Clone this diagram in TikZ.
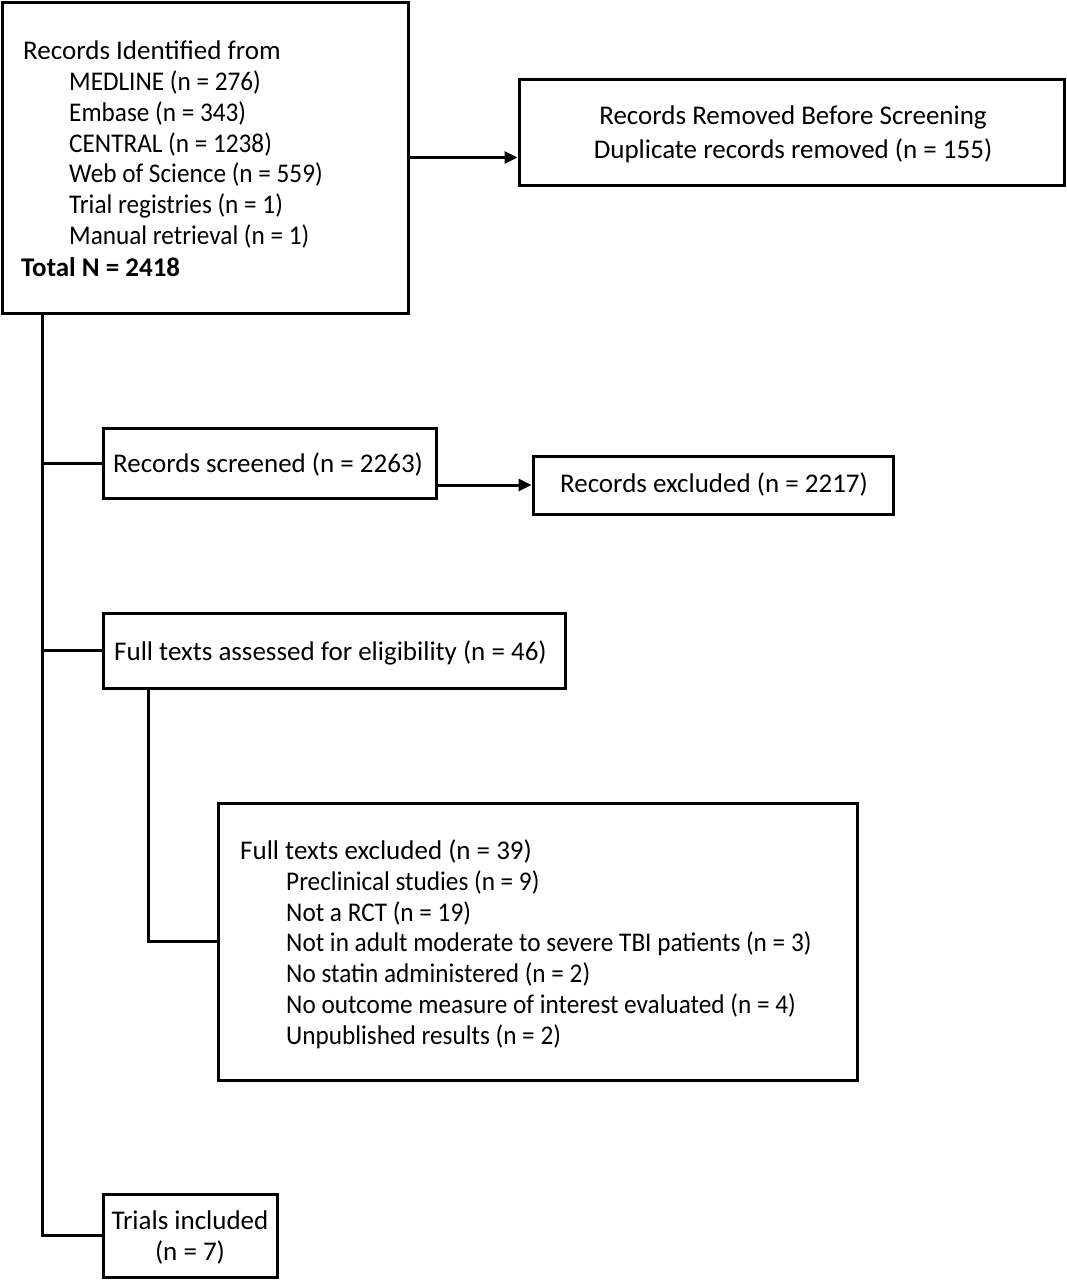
\documentclass[tikz,border=0pt]{standalone}
\usepackage{fontspec}
\setmainfont{Carlito}
\newfontfamily\condfont[FakeStretch=0.935]{Carlito}
\usetikzlibrary{arrows.meta}
\begin{document}
\begin{tikzpicture}[x=1pt,y=-1pt,
  box/.style={draw,line width=3pt,rectangle,inner sep=0pt},
  txt/.style={anchor=base west,inner sep=0pt,font=\fontsize{27}{31}\selectfont},
  itxt/.style={anchor=base west,inner sep=0pt,font=\condfont\fontsize{27}{31}\selectfont},
  ctxt/.style={anchor=base,inner sep=0pt,font=\fontsize{27}{31}\selectfont},
  conn/.style={line width=3pt},
  arr/.style={line width=3pt,-{Triangle[length=13pt,width=12pt]}}]
\useasboundingbox (0,0) rectangle (1067,1280);
% boxes
\node[box,minimum width=406pt,minimum height=311pt] (A) at (205,157.5) {};
\node[box,minimum width=545pt,minimum height=106pt] (B) at (791.5,132) {};
\node[box,minimum width=333pt,minimum height=70pt] (C) at (269.5,463) {};
\node[box,minimum width=360pt,minimum height=58pt] (D) at (713,485) {};
\node[box,minimum width=462pt,minimum height=75pt] (E) at (334,650.5) {};
\node[box,minimum width=639pt,minimum height=277pt] (F) at (537.5,941.5) {};
\node[box,minimum width=174pt,minimum height=83pt] (G) at (190,1235.5) {};
% texts box A
\node[txt] (a1) at (23,59) {Records Identified from};
\node[itxt] (a2) at (69,90) {MEDLINE (n = 276)};
\node[itxt] (a3) at (69,121) {Embase (n = 343)};
\node[itxt] (a4) at (69,152) {CENTRAL (n = 1238)};
\node[itxt] (a5) at (69,182) {Web of Science (n = 559)};
\node[itxt] (a6) at (69,213) {Trial registries (n = 1)};
\node[itxt] (a7) at (69,244) {Manual retrieval (n = 1)};
\node[txt,font=\fontsize{27}{31}\selectfont\bfseries] (a8) at (21,276) {Total N = 2418};
% box B
\node[ctxt] (b1) at (793,124) {Records Removed Before Screening};
\node[ctxt] (b2) at (793,158) {Duplicate records removed (n = 155)};
% box C, D, E
\node[txt] (c1) at (113,472) {Records screened (n = 2263)};
\node[ctxt] (d1) at (714,492) {Records excluded (n = 2217)};
\node[txt] (e1) at (114,660) {Full texts assessed for eligibility (n = 46)};
% box F
\node[txt] (f1) at (240,859) {Full texts excluded (n = 39)};
\node[itxt] (f2) at (286,890) {Preclinical studies (n = 9)};
\node[itxt] (f3) at (286,921) {Not a RCT (n = 19)};
\node[itxt] (f4) at (286,951) {Not in adult moderate to severe TBI patients (n = 3)};
\node[itxt] (f5) at (286,982) {No statin administered (n = 2)};
\node[itxt] (f6) at (286,1013) {No outcome measure of interest evaluated (n = 4)};
\node[itxt] (f7) at (286,1044) {Unpublished results (n = 2)};
% box G
\node[ctxt] (g1) at (190,1229) {Trials included};
\node[ctxt] (g2) at (190,1260) {(n = 7)};
% connectors
\coordinate (trunk) at (42,313);
\draw[arr] (A.east) -- (B.west |- A.east);
\draw[conn] (trunk) |- (G.west);
\draw[conn] (trunk |- C.west) -- (C.west);
\draw[conn] (trunk |- E.west) -- (E.west);
\draw[arr] (C.east |- D.west) -- (D.west);
\draw[conn] ([xshift=47pt]E.south west) |- (F.west);
\end{tikzpicture}
\end{document}
